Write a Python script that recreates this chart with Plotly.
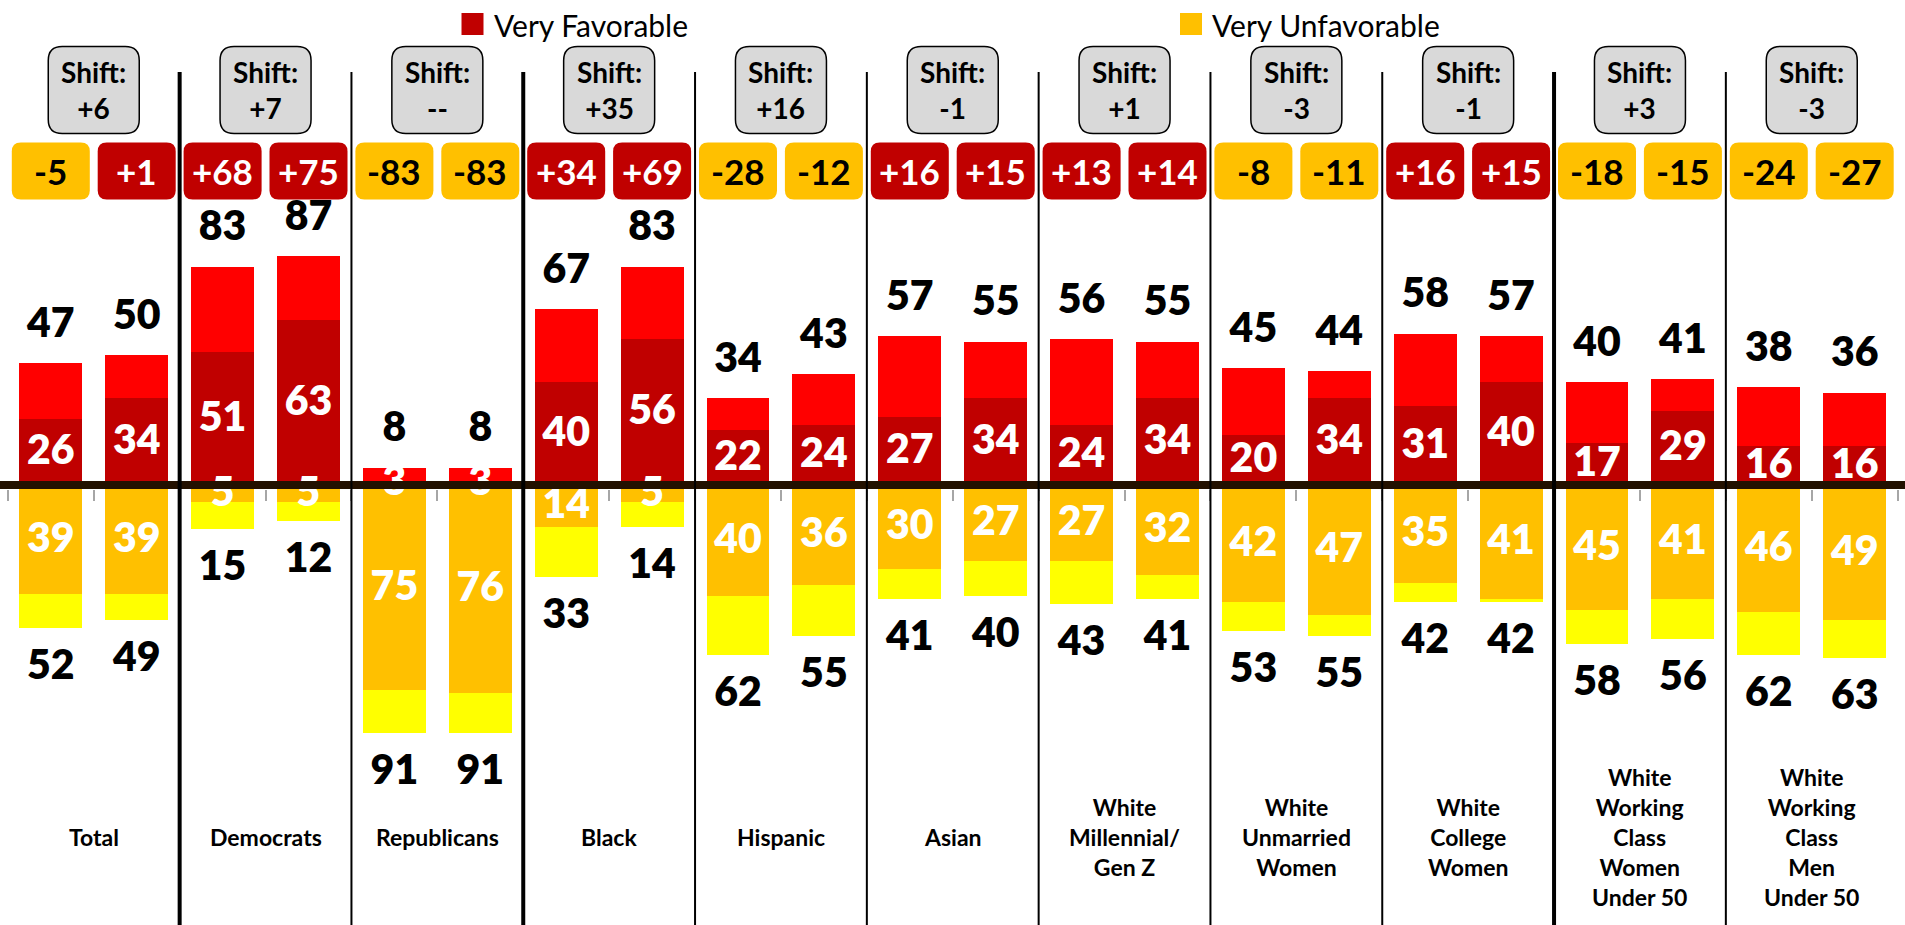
import plotly.graph_objects as go

# ---------------- data ----------------
groups = ["Total", "Democrats", "Republicans", "Black", "Hispanic", "Asian",
          "White<br>Millennial/<br>Gen Z", "White<br>Unmarried<br>Women",
          "White<br>College<br>Women", "White<br>Working<br>Class<br>Women<br>Under 50",
          "White<br>Working<br>Class<br>Men<br>Under 50"]

total_fav_1 = [47, 83, 8, 67, 34, 57, 56, 45, 58, 40, 38]
total_fav_2 = [50, 87, 8, 83, 43, 55, 55, 44, 57, 41, 36]
very_fav_1 = [26, 51, 3, 40, 22, 27, 24, 20, 31, 17, 16]
very_fav_2 = [34, 63, 3, 56, 24, 34, 34, 34, 40, 29, 16]
very_unfav_1 = [39, 5, 75, 14, 40, 30, 27, 42, 35, 45, 46]
very_unfav_2 = [39, 5, 76, 5, 36, 27, 32, 47, 41, 41, 49]
total_unfav_1 = [52, 15, 91, 33, 62, 41, 43, 53, 42, 58, 62]
total_unfav_2 = [49, 12, 91, 14, 55, 40, 41, 55, 42, 56, 63]

# ---------------- styling ----------------
C_VF = "#C00000"
C_F = "#FF0000"
C_VU = "#FFC000"
C_U = "#FFFF00"
FONT = "Lato"

W, H = 1905, 925
PX_PER_UNIT = 2.68
ZERO_PX = 489
X0_PX = 50.8
CAT_PX = 85.9
YMAX = ZERO_PX / PX_PER_UNIT
YMIN = -(H - ZERO_PX) / PX_PER_UNIT
XMIN = -X0_PX / CAT_PX
XMAX = (W - X0_PX) / CAT_PX


def py(px):
    """pixel row -> data y"""
    return (ZERO_PX - px) / PX_PER_UNIT


# interleave the two bars of every group
n = len(groups)
tf, vf, vu, tu = [], [], [], []
for g in range(n):
    tf += [total_fav_1[g], total_fav_2[g]]
    vf += [very_fav_1[g], very_fav_2[g]]
    vu += [very_unfav_1[g], very_unfav_2[g]]
    tu += [total_unfav_1[g], total_unfav_2[g]]
xs = list(range(2 * n))

fig = go.Figure()
bw = 0.733
fig.add_bar(x=xs, y=vf, marker_color=C_VF, width=bw, name="Very Favorable", showlegend=False)
fig.add_bar(x=xs, y=[a - b for a, b in zip(tf, vf)], marker_color=C_F, width=bw, showlegend=False)
fig.add_bar(x=xs, y=[-v for v in vu], marker_color=C_VU, width=bw, name="Very Unfavorable", showlegend=False)
fig.add_bar(x=xs, y=[-(a - b) for a, b in zip(tu, vu)], marker_color=C_U, width=bw, showlegend=False)
for tr in fig.data:
    tr.marker.line.width = 0
    tr.hoverinfo = "skip"

LBL = 41
WT = 800
# inner labels
fig.add_scatter(x=xs, y=[v / 2 for v in vf], mode="text", text=[str(v) for v in vf],
                textposition="middle center",
                textfont=dict(family=FONT, size=LBL, color="white", weight=WT),
                showlegend=False, hoverinfo="skip")
fig.add_scatter(x=xs, y=[-v / 2 for v in vu], mode="text", text=[str(v) for v in vu],
                textposition="middle center",
                textfont=dict(family=FONT, size=LBL, color="white", weight=WT),
                showlegend=False, hoverinfo="skip")
# outer labels
OFF_TOP = 13.6
OFF_BOT = 15.2
fig.add_scatter(x=xs, y=[v + OFF_TOP for v in tf], mode="text", text=[str(v) for v in tf],
                textposition="middle center",
                textfont=dict(family=FONT, size=LBL, color="black", weight=WT),
                showlegend=False, hoverinfo="skip")
fig.add_scatter(x=xs, y=[-(v + OFF_BOT) for v in tu], mode="text", text=[str(v) for v in tu],
                textposition="middle center",
                textfont=dict(family=FONT, size=LBL, color="black", weight=WT),
                showlegend=False, hoverinfo="skip")


def rrect(w, h, r):
    x0, x1, y0, y1 = -w / 2, w / 2, -h / 2, h / 2
    return (f"M{x0 + r},{y0} L{x1 - r},{y0} Q{x1},{y0} {x1},{y0 + r} "
            f"L{x1},{y1 - r} Q{x1},{y1} {x1 - r},{y1} L{x0 + r},{y1} "
            f"Q{x0},{y1} {x0},{y1 - r} L{x0},{y0 + r} Q{x0},{y0} {x0 + r},{y0} Z")


shapes = []
annotations = []

# zero line
shapes.append(dict(type="line", xref="paper", x0=0, x1=1, yref="y", y0=1.5, y1=1.5,
                   line=dict(color="#231100", width=8), layer="above"))

# separators
thick = {1, 3, 9}
for k in range(1, n):
    shapes.append(dict(type="line", xref="x", x0=2 * k - 0.5, x1=2 * k - 0.5,
                       yref="y", y0=YMIN - 5, y1=py(72),
                       line=dict(color="black", width=4 if k in thick else 2), layer="above"))

# net difference boxes
net = [a - b for a, b in zip(tf, tu)]
for i, v in enumerate(net):
    pos = v > 0
    shapes.append(dict(type="path", xsizemode="pixel", ysizemode="pixel",
                       xanchor=i, yanchor=py(171), xref="x", yref="y",
                       path=rrect(78, 57, 9), fillcolor=C_VF if pos else C_VU,
                       line=dict(width=0), layer="below"))
    annotations.append(dict(x=i, y=py(171), xref="x", yref="y", showarrow=False,
                            text=f"<b>{v:+d}</b>", borderpad=0,
                            font=dict(family=FONT, size=35, color="white" if pos else "black"),
                            xanchor="center", yanchor="middle"))

# shift boxes
for g in range(n):
    s = net[2 * g + 1] - net[2 * g]
    st = "--" if s == 0 else f"{s:+d}"
    cx = 2 * g + 0.5
    shapes.append(dict(type="path", xsizemode="pixel", ysizemode="pixel",
                       xanchor=cx, yanchor=py(90), xref="x", yref="y",
                       path=rrect(91, 87, 14), fillcolor="#D9D9D9",
                       line=dict(color="black", width=1.5), layer="below"))
    annotations.append(dict(x=cx, y=py(90), xref="x", yref="y", showarrow=False,
                            text=f"<b>Shift:<br>{st}</b>",
                            font=dict(family=FONT, size=28, color="black"),
                            xanchor="center", yanchor="middle"))

# category labels
for g, name in enumerate(groups):
    annotations.append(dict(x=2 * g + 0.5, y=py(837), xref="x", yref="y", showarrow=False,
                            text=f"<b>{name}</b>", align="center",
                            font=dict(family=FONT, size=23, color="black"),
                            xanchor="center", yanchor="middle"))

# legend
for sq_x, txt, col in [(472.5, "Very Favorable", C_VF), (1191, "Very Unfavorable", C_VU)]:
    xd = (sq_x - X0_PX) / CAT_PX
    shapes.append(dict(type="rect", xsizemode="pixel", ysizemode="pixel",
                       xanchor=xd, yanchor=py(24), xref="x", yref="y",
                       x0=-11, x1=11, y0=-11, y1=11, fillcolor=col, line=dict(width=0)))
    annotations.append(dict(x=(sq_x + 19 - X0_PX) / CAT_PX, y=py(25), xref="x", yref="y",
                            showarrow=False, text=txt,
                            font=dict(family=FONT, size=30, color="black"),
                            xanchor="left", yanchor="middle"))

fig.update_layout(
    width=W, height=H, autosize=False,
    margin=dict(l=0, r=0, t=0, b=0, pad=0),
    paper_bgcolor="white", plot_bgcolor="white",
    barmode="relative", bargap=0,
    shapes=shapes, annotations=annotations,
    showlegend=False,
    xaxis=dict(range=[XMIN, XMAX], showgrid=False, zeroline=False, showline=False,
               tickvals=[i - 0.5 for i in range(2 * n + 1)], ticks="outside", ticklen=11,
               tickwidth=1.5, tickcolor="#A6A6A6", showticklabels=False,
               anchor="free", position=(0 - YMIN) / (YMAX - YMIN), fixedrange=True),
    yaxis=dict(range=[YMIN, YMAX], visible=False, fixedrange=True),
)

fig.write_html("out.html", config={"displayModeBar": False},
               post_script="document.body.style.margin='0px';document.body.style.overflow='hidden';")
